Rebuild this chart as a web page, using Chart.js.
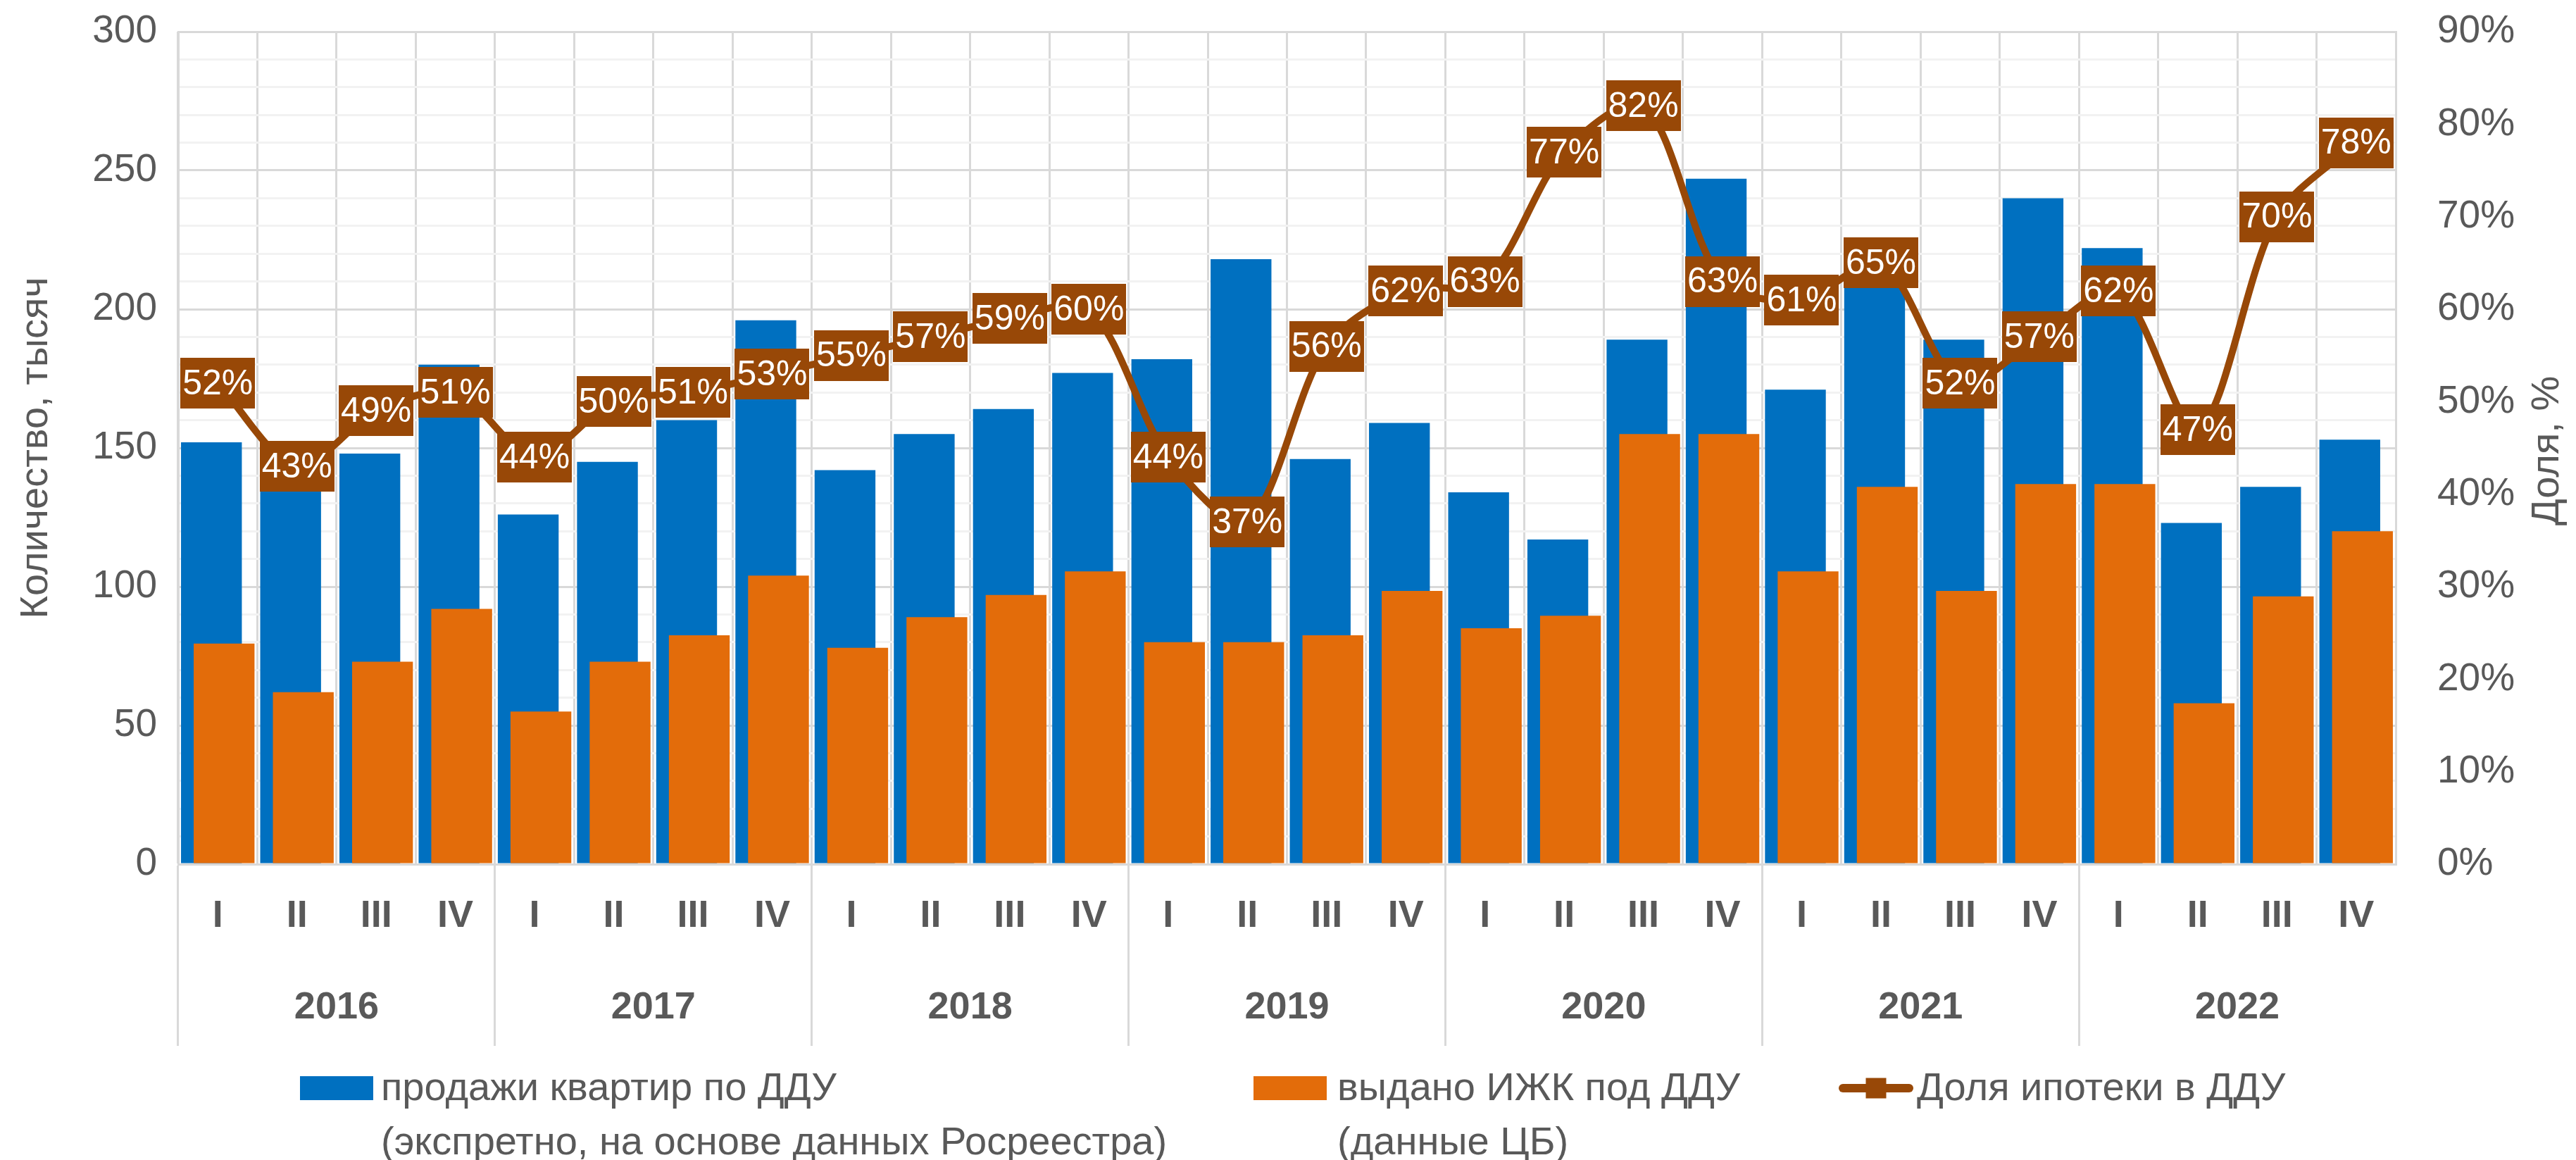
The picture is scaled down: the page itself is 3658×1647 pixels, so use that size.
<!DOCTYPE html>
<html>
<head>
<meta charset="utf-8">
<script src="https://cdn.jsdelivr.net/npm/chart.js@4/dist/chart.umd.min.js"></script>
<style>
  html, body { margin: 0; padding: 0; background: #ffffff; }
  canvas { display: block; }
</style>
</head>
<body>
<canvas id="c" width="3658" height="1647" style="width:3658px;height:1647px"></canvas>
<script>
// ---------------- DATA ----------------
const quarterLabels = ['I','II','III','IV','I','II','III','IV','I','II','III','IV','I','II','III','IV',
                       'I','II','III','IV','I','II','III','IV','I','II','III','IV'];
const yearLabels = ['2016','2017','2018','2019','2020','2021','2022'];

// продажи квартир по ДДУ, тыс.
const salesDDU = [152, 144, 148, 180,  126, 145, 160, 196,  142, 155, 164, 177,  182, 218, 146, 159,
                  134, 117, 189, 247,  171, 209, 189, 240,  222, 123, 136, 153];
// выдано ИЖК под ДДУ, тыс.
const mortgagesDDU = [79.5, 62, 73, 92,  55, 73, 82.5, 104,  78, 89, 97, 105.5,  80, 80, 82.5, 98.5,
                      85, 89.5, 155, 155,  105.5, 136, 98.5, 137,  137, 58, 96.5, 120];
// Доля ипотеки в ДДУ, %
const mortgageShare = [52, 43, 49, 51,  44, 50, 51, 53,  55, 57, 59, 60,  44, 37, 56, 62,
                       63, 77, 82, 63,  61, 65, 52, 57,  62, 47, 70, 78];

const legendSales = ['продажи квартир по ДДУ', '(экспретно, на основе данных Росреестра)'];
const legendMortgages = ['выдано ИЖК под ДДУ', '(данные ЦБ)'];
const legendShare = ['Доля ипотеки в ДДУ'];
const leftTitle = 'Количество, тысяч';
const rightTitle = 'Доля, %';

// ---------------- STYLE ----------------
const FONT = "'Liberation Sans', Arial, sans-serif";
const TEXT = '#595959';
const GRID_MAJOR = '#d9d9d9';
const GRID_MINOR = '#f2f2f2';
const BLUE = '#0070C0';
const ORANGE = '#E36C0A';
const BROWN = '#984807';
const NONE = 'rgba(0,0,0,0)';

Chart.defaults.font.family = FONT;
Chart.defaults.color = TEXT;

// draw orange bars after (on top of) blue bars while keeping blue on the left of the group
const drawOrder = {
  id: 'drawOrder',
  beforeDatasetDraw(chart, args) {
    if (args.index === 1) return false;
  },
  afterDatasetDraw(chart, args) {
    if (args.index === 0) {
      const meta = chart.getDatasetMeta(1);
      if (meta && !meta.hidden) meta.controller.draw();
    }
  }
};

// boxed data labels on the share line
const shareLabels = {
  id: 'shareLabels',
  afterDatasetsDraw(chart) {
    const meta = chart.getDatasetMeta(2);
    const ds = chart.data.datasets[2];
    const ctx = chart.ctx;
    ctx.save();
    ctx.font = '50px ' + FONT;
    ctx.textAlign = 'center';
    ctx.textBaseline = 'middle';
    meta.data.forEach((pt, i) => {
      const txt = ds.data[i] + '%';
      const w = ctx.measureText(txt).width + 6;
      const h = 72;
      ctx.fillStyle = BROWN;
      ctx.fillRect(Math.round(pt.x - w / 2), Math.round(pt.y - h / 2), Math.round(w), h);
      ctx.fillStyle = '#ffffff';
      ctx.fillText(txt, pt.x, pt.y + 2);
    });
    ctx.restore();
  }
};

// right axis title (reads bottom-to-top) and legend
const extras = {
  id: 'extras',
  afterDraw(chart) {
    const ctx = chart.ctx;
    const ds = chart.data.datasets;
    const area = chart.chartArea;
    ctx.save();
    ctx.fillStyle = TEXT;
    ctx.font = '56px ' + FONT;
    ctx.textAlign = 'center';
    ctx.textBaseline = 'middle';
    ctx.translate(3618, (area.top + area.bottom) / 2 + 4);
    ctx.rotate(-Math.PI / 2);
    ctx.fillText(rightTitle, 0, 0);
    ctx.restore();

    // legend
    const row1 = 1545, lh = 77;
    ctx.save();
    ctx.font = '56px ' + FONT;
    ctx.textAlign = 'left';
    ctx.textBaseline = 'middle';
    const items = [
      { x: 426, tx: 541, kind: 'box', d: 0, lines: legendSales },
      { x: 1780, tx: 1899, kind: 'box', d: 1, lines: legendMortgages },
      { x: 2611, tx: 2722, kind: 'line', d: 2, lines: legendShare }
    ];
    items.forEach(it => {
      if (it.kind === 'box') {
        ctx.fillStyle = ds[it.d].backgroundColor;
        ctx.fillRect(it.x, row1 - 17, 104, 34);
      } else {
        ctx.strokeStyle = ds[it.d].borderColor;
        ctx.lineWidth = 12;
        ctx.lineCap = 'round';
        ctx.beginPath();
        ctx.moveTo(it.x + 6, row1);
        ctx.lineTo(it.x + 100, row1);
        ctx.stroke();
        ctx.fillStyle = ds[it.d].borderColor;
        ctx.fillRect(it.x + 38.5, row1 - 14.5, 29, 29);
      }
      ctx.fillStyle = TEXT;
      it.lines.forEach((ln, k) => ctx.fillText(ln, it.tx, row1 + 2 + k * lh));
    });
    ctx.restore();
  }
};

new Chart(document.getElementById('c'), {
  type: 'bar',
  data: {
    labels: quarterLabels,
    datasets: [
      {
        label: legendSales.join(' '),
        data: salesDDU,
        backgroundColor: BLUE,
        borderWidth: 0,
        xAxisID: 'x', yAxisID: 'y',
        categoryPercentage: 0.32,
        barPercentage: 4.8,
        order: 1
      },
      {
        label: legendMortgages.join(' '),
        data: mortgagesDDU,
        backgroundColor: ORANGE,
        borderWidth: 0,
        xAxisID: 'x', yAxisID: 'y',
        categoryPercentage: 0.32,
        barPercentage: 4.8,
        order: 2
      },
      {
        type: 'line',
        label: legendShare.join(' '),
        data: mortgageShare,
        borderColor: BROWN,
        backgroundColor: BROWN,
        borderWidth: 10,
        tension: 0.3,
        pointStyle: 'rect',
        pointRadius: 14,
        pointBackgroundColor: BROWN,
        pointBorderWidth: 0,
        xAxisID: 'x', yAxisID: 'y1',
        order: 0
      }
    ]
  },
  options: {
    responsive: false,
    devicePixelRatio: 1,
    animation: false,
    events: [],
    layout: { padding: { top: 45, right: 0, bottom: 187, left: 0 } },
    plugins: {
      legend: { display: false },
      tooltip: { enabled: false },
      title: { display: false }
    },
    scales: {
      x: {
        type: 'category',
        position: 'bottom',
        weight: 0,
        offset: true,
        grid: {
          offset: true,
          color: GRID_MAJOR,
          lineWidth: 3,
          drawOnChartArea: true,
          drawTicks: true,
          tickLength: 258,
          tickWidth: 3,
          tickColor: c => (c.index % 4 === 0 ? GRID_MAJOR : NONE)
        },
        border: { display: true, color: GRID_MAJOR, width: 3 },
        ticks: {
          font: { size: 54, weight: 'bold' },
          color: TEXT,
          padding: -216,
          autoSkip: false,
          maxRotation: 0
        },
        afterFit: s => { s.height = 113; }
      },
      xYear: {
        type: 'category',
        labels: yearLabels,
        position: 'bottom',
        weight: 1,
        offset: true,
        grid: { display: false, drawTicks: false },
        border: { display: false },
        ticks: {
          font: { size: 54, weight: 'bold' },
          color: TEXT,
          padding: 59,
          autoSkip: false,
          maxRotation: 0
        },
        afterFit: s => { s.height = 120; }
      },
      y: {
        type: 'linear',
        position: 'left',
        min: 0,
        max: 300,
        grid: {
          color: c => (c.tick && c.tick.value % 50 === 0 ? GRID_MAJOR : GRID_MINOR),
          lineWidth: 3,
          drawTicks: true,
          tickLength: 22,
          tickColor: NONE
        },
        border: { display: true, color: GRID_MAJOR, width: 3 },
        ticks: {
          stepSize: 10,
          autoSkip: false,
          padding: 8,
          font: { size: 55 },
          color: TEXT,
          callback: v => (v % 50 === 0 ? String(v) : '')
        },
        title: {
          display: true,
          text: leftTitle,
          font: { size: 56 },
          color: TEXT,
          padding: { top: 18, bottom: 0 }
        },
        afterFit: s => { s.width = 253; }
      },
      y1: {
        type: 'linear',
        position: 'right',
        min: 0,
        max: 90,
        grid: { drawOnChartArea: false, drawTicks: true, tickLength: 51, tickColor: NONE },
        border: { display: true, color: GRID_MAJOR, width: 3 },
        ticks: {
          stepSize: 10,
          autoSkip: false,
          padding: 8,
          font: { size: 55 },
          color: TEXT,
          callback: v => v + '%'
        },
        afterFit: s => { s.width = 256; }
      }
    }
  },
  plugins: [drawOrder, shareLabels, extras]
});
</script>
</body>
</html>
